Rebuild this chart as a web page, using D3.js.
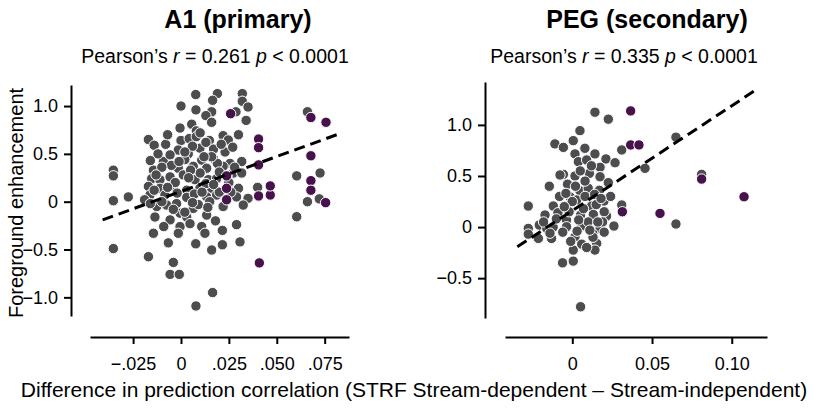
<!DOCTYPE html>
<html>
<head>
<meta charset="utf-8">
<script src="https://cdn.jsdelivr.net/npm/d3@7"></script>
<style>
  body { margin: 0; background: #fff; }
  svg { font-family: "Liberation Sans", Arial, sans-serif; }
</style>
</head>
<body>
<div id="cont-svg"></div>
<script>
// A1 (primary) - grey units
const a1GreyX = [0.0077, 0.019, 0.032, 0.0165, 0.032, 0.035, 0.0, 0.0078, 0.016, 0.013, 0.0287, 0.034, 0.0056, 0.016,
  -0.0005, 0.008, 0.022, -0.017, -0.014, 0.0, 0.0043, 0.0148, 0.0247, -0.0014, 0.0099, 0.017, 0.023, -0.0092, -0.0057,
  0.0038, 0.0108, 0.017, 0.0317, 0.0256, -0.0144, -0.0014, 0.0064, 0.0134, 0.022, -0.0353, -0.0353, 0.0273, 0.0317,
  -0.0153, -0.011, -0.0057, 0.0012, 0.0073, 0.0143, 0.0186, -0.017, -0.011, -0.004, 0.003, 0.0099, 0.016, 0.030, 0.040,
  -0.0275, -0.0353, -0.0162, -0.0084, 0.003, 0.0134, 0.0186, 0.029, 0.035, 0.0325, -0.0127, -0.0075, -0.0023, 0.0064,
  0.0134, -0.0136, -0.0005, 0.003, -0.0057, -0.0005, 0.0047, 0.0108, -0.0144, -0.0014, 0.0125, 0.0216, 0.029, -0.0066,
  0.0077, 0.016, 0.0216, 0.0308, -0.0353, -0.017, -0.004, -0.0057, -0.0009, 0.0165, 0.0078, 0.066, 0.0604, 0.0726, 0.066,
  0.0722, 0.0604, -0.008, 0.006, 0.013, -0.012, 0.002, 0.019, -0.005, 0.010, 0.024, -0.003, 0.013, 0.020, -0.014, 0.007,
  -0.010, 0.015, 0.022, -0.019, 0.009, -0.004, 0.018, -0.009, 0.005, 0.016, -0.016, 0.027, 0.030, -0.007, 0.008,
  0.002, 0.012, -0.010, 0.020, 0.004, -0.007, 0.011, 0.025, -0.002, 0.017, 0.006, -0.013, 0.021, 0.010, -0.001, 0.028,
  0.014, 0.002, -0.016, 0.026]
const a1GreyY = [1.12, 1.13, 1.13, 1.06, 1.05, 0.99, 1.00, 0.96, 0.94, 0.90, 0.94, 0.85, 0.81, 0.83,
  0.77, 0.74, 0.69, 0.65, 0.59, 0.64, 0.66, 0.64, 0.645, 0.54, 0.56, 0.55, 0.52, 0.42, 0.49,
  0.50, 0.435, 0.45, 0.42, 0.40, 0.33, 0.35, 0.37, 0.35, 0.37, 0.33, 0.27, 0.30, 0.30,
  0.24, 0.23, 0.26, 0.28, 0.23, 0.23, 0.24, 0.16, 0.14, 0.16, 0.12, 0.14, 0.14, 0.14, 0.15,
  0.05, 0.01, 0.07, 0.07, 0.045, 0.05, 0.07, 0.05, 0.035, -0.035, -0.05, -0.035, -0.02, -0.07,
  -0.14, -0.16, -0.12, -0.16, -0.19, -0.26, -0.23, -0.26, -0.33, -0.33, -0.33, -0.30, -0.24, -0.43,
  -0.44, -0.505, -0.45, -0.42, -0.49, -0.575, -0.635, -0.76, -0.76, -0.95, -1.09, 0.94, 0.27, 0.30, 0.0,
  0.03, -0.157, 0.60, 0.58, 0.62, 0.50, 0.44, 0.40, 0.38, 0.30, 0.27, 0.20, 0.19, 0.10, 0.12, 0.08,
  0.00, 0.00, -0.05, 0.02, -0.03, -0.08, -0.20, -0.26, 0.33, 0.47, 0.43, 0.57, 0.70, 0.70, 0.68,
  0.52, 0.47, 0.36, 0.31, 0.25, 0.15, 0.10, 0.20, 0.09, 0.18, -0.01, 0.28, 0.60, 0.72, 0.42, 0.36,
  -0.06, -0.11, -0.02, 0.10]

// A1 (primary) - purple units
const a1PurpleX = [0.0259, 0.0405, 0.0405, 0.0405, 0.0678, 0.0757, 0.0678, 0.0678, 0.0678, 0.0755, 0.0405, 0.0466,
  0.0466, 0.0409, 0.0238, 0.0238, 0.0238]
const a1PurpleY = [0.92, 0.655, 0.565, 0.385, 0.88, 0.83, 0.48, 0.22, 0.12, -0.01, 0.06, 0.07,
  0.165, -0.64, 0.27, 0.14, 0.02]

// PEG (secondary) - grey units
const pegGreyX = [0.0142, 0.0226, 0.0048, 0.0006, -0.0109, -0.0056, 0.0079, 0.0017, 0.0142, 0.0211, 0.0268, 0.031,
  0.0038, 0.009, 0.0174, -0.0056, -0.0077, 0.0017, 0.0107, 0.0174, -0.0144, 0.0226, 0.0048, 0.01, -0.0015, 0.0199,
  0.0027, -0.0276, -0.0119, -0.0052, -0.0171, 0.0121, 0.0215, 0.031, -0.0098, -0.0036, 0.0052, 0.0132, -0.0207,
  -0.0276, -0.0276, -0.016, -0.013, -0.0213, -0.0036, 0.0059, 0.0174, 0.0261, 0.0017, 0.0128, 0.0059, 0.0006, 0.0153,
  0.0142, -0.0061, 0.0006, 0.0052, 0.0456, 0.065, 0.065, 0.0811, -0.008, 0.008, 0.015, -0.002, 0.010, -0.012, 0.003,
  0.020, 0.017, -0.003, 0.012, 0.005, -0.009, 0.024, 0.000, -0.006, 0.013, 0.009, -0.018, 0.019,
  0.002, 0.014, -0.005, 0.007, 0.016, -0.010, 0.004, 0.011, -0.001, 0.018, -0.014, 0.008, 0.020, -0.004]
const pegGreyY = [1.124, 1.056, 0.944, 0.846, 0.814, 0.78, 0.771, 0.716, 0.716, 0.667, 0.63, 0.755,
  0.64, 0.657, 0.585, 0.516, 0.51, 0.50, 0.526, 0.493, 0.40, 0.435, 0.356, 0.38, 0.297, 0.255,
  0.265, 0.206, 0.206, 0.206, 0.118, 0.206, 0.108, 0.216, 0.085, 0.069, 0.118, 0.124, 0.02,
  -0.013, -0.069, -0.013, -0.111, -0.111, 0.003, 0.013, -0.013, 0.01, -0.095, -0.062, -0.167, -0.225, -0.16,
  -0.225, -0.35, -0.333, -0.78, 0.575, 0.88, 0.03, 0.516, 0.30, 0.30, 0.22, 0.15, 0.05, 0.00, -0.04,
  0.15, 0.36, 0.42, 0.60, 0.55, 0.14, 0.30, 0.25, -0.05, -0.10, -0.20, 0.05, 0.05,
  0.40, 0.32, 0.20, 0.18, 0.05, 0.08, 0.07, -0.03, -0.14, 0.28, -0.06, 0.45, -0.05, 0.33]

// PEG (secondary) - purple units
const pegPurpleX = [0.0366, 0.0366, 0.0418, 0.0314, 0.055, 0.0811, 0.1077]
const pegPurpleY = [1.137, 0.804, 0.804, 0.15, 0.134, 0.47, 0.297]

// regression lines (end points)
const a1FitX = [-0.0409, 0.0813]
const a1FitY = [-0.19, 0.70]
const pegFitX = [-0.0345, 0.1146]
const pegFitY = [-0.193, 1.337]

const a1XTicks = [-0.025, 0, 0.025, 0.05, 0.075]
const a1XLabels = ["\u2212.025", "0", ".025", ".050", ".075"]
const a1YTicks = [1.0, 0.5, 0, -0.5, -1.0]
const a1YLabels = ["1.0", "0.5", "0", "\u22120.5", "\u22121.0"]
const pegXTicks = [0, 0.05, 0.10]
const pegXLabels = ["0", "0.05", "0.10"]
const pegYTicks = [1.0, 0.5, 0, -0.5]
const pegYLabels = ["1.0", "0.5", "0", "\u22120.5"]

const w = 828
const h = 411
const grey = "#4d4d4f"
const purple = "#47124c"

const svg = d3.select("#cont-svg")
              .append("svg")
              .attr("width", w)
              .attr("height", h)

function panel(opt) {
  const x = d3.scaleLinear().domain(opt.xDomain).range(opt.xRange)
  const y = d3.scaleLinear().domain(opt.yDomain).range(opt.yRange)
  const g = svg.append("g")

  // x axis
  const xAxis = g.append("g")
     .attr("transform", `translate(0,${opt.xAxisY})`)
     .call(d3.axisBottom(x).tickValues(opt.xTicks).tickSize(7).tickSizeOuter(0).tickPadding(13)
       .tickFormat((d, i) => opt.xLabels[i]))
  // y axis
  const yAxis = g.append("g")
     .attr("transform", `translate(${opt.yAxisX},0)`)
     .call(d3.axisLeft(y).tickValues(opt.yTicks).tickSize(7).tickSizeOuter(0).tickPadding(6)
       .tickFormat((d, i) => opt.yLabels[i]))

  for (const ax of [xAxis, yAxis]) {
    ax.select(".domain").attr("stroke", "#000").attr("stroke-width", 2)
    ax.selectAll(".tick line").attr("stroke", "#000").attr("stroke-width", 2)
    ax.selectAll(".tick text")
      .attr("fill", "#000")
      .style("font-size", "18px")
      .style("font-family", '"Liberation Sans", Arial, sans-serif')
  }

  g.selectAll("circle.grey")
   .data(opt.greyX)
   .enter()
   .append("circle")
   .attr("class", "grey")
   .attr("cx", d => x(d))
   .attr("cy", (d, i) => y(opt.greyY[i]))
   .attr("r", 5.2)
   .attr("fill", grey)
   .attr("stroke", "#fff")
   .attr("stroke-width", 1)

  g.selectAll("circle.purple")
   .data(opt.purpleX)
   .enter()
   .append("circle")
   .attr("class", "purple")
   .attr("cx", d => x(d))
   .attr("cy", (d, i) => y(opt.purpleY[i]))
   .attr("r", 5.2)
   .attr("fill", purple)
   .attr("stroke", "#fff")
   .attr("stroke-width", 1)

  g.append("path")
   .datum(opt.fitX.map((d, i) => [d, opt.fitY[i]]))
   .attr("d", d3.line().x(d => x(d[0])).y(d => y(d[1])))
   .attr("fill", "none")
   .attr("stroke", "#000")
   .attr("stroke-width", 3)
   .attr("stroke-dasharray", "11,6")

  g.append("text")
   .attr("x", opt.titleX)
   .attr("y", 28)
   .attr("text-anchor", "middle")
   .style("font-size", "25px")
   .style("font-weight", "bold")
   .text(opt.title)

  const stat = g.append("text")
   .attr("x", opt.titleX - 23)
   .attr("y", 63)
   .attr("text-anchor", "middle")
   .style("font-size", "19.5px")
  stat.append("tspan").text("Pearson\u2019s ")
  stat.append("tspan").style("font-style", "italic").text("r")
  stat.append("tspan").text(` = ${opt.r} `)
  stat.append("tspan").style("font-style", "italic").text("p")
  stat.append("tspan").text(" < 0.0001")
}

panel({
  title: "A1 (primary)", titleX: 238, r: "0.261",
  xDomain: [-0.0475, 0.0877], xRange: [90, 349],
  yDomain: [-1.195, 1.22], yRange: [316, 85],
  xAxisY: 337, yAxisX: 71,
  xTicks: a1XTicks, xLabels: a1XLabels, yTicks: a1YTicks, yLabels: a1YLabels,
  greyX: a1GreyX, greyY: a1GreyY, purpleX: a1PurpleX, purpleY: a1PurpleY,
  fitX: a1FitX, fitY: a1FitY
})

panel({
  title: "PEG (secondary)", titleX: 647, r: "0.335",
  xDomain: [-0.0422, 0.1221], xRange: [505, 767],
  yDomain: [-0.89, 1.42], yRange: [318, 82],
  xAxisY: 337, yAxisX: 485,
  xTicks: pegXTicks, xLabels: pegXLabels, yTicks: pegYTicks, yLabels: pegYLabels,
  greyX: pegGreyX, greyY: pegGreyY, purpleX: pegPurpleX, purpleY: pegPurpleY,
  fitX: pegFitX, fitY: pegFitY
})

svg.append("text")
   .attr("transform", "translate(23,203) rotate(-90)")
   .attr("text-anchor", "middle")
   .style("font-size", "20px")
   .text("Foreground enhancement")

svg.append("text")
   .attr("x", 414)
   .attr("y", 397)
   .attr("text-anchor", "middle")
   .style("font-size", "21px")
   .text("Difference in prediction correlation (STRF Stream-dependent \u2013 Stream-independent)")
</script>
</body>
</html>
